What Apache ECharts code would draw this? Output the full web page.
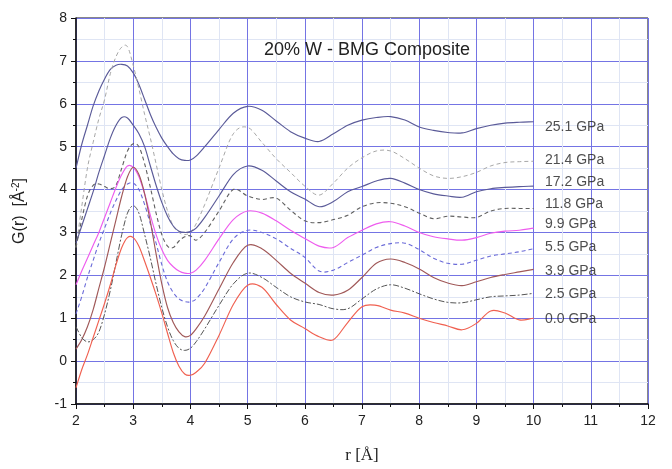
<!DOCTYPE html>
<html>
<head>
<meta charset="utf-8">
<script src="https://cdn.jsdelivr.net/npm/echarts@6/dist/echarts.min.js"></script>
<style>html,body{margin:0;padding:0;background:#fff}#c{width:672px;height:469px}</style>
</head>
<body>
<div id="c"></div>
<script>
// r values (Å)
var r = [2.0,2.1,2.2,2.3,2.4,2.5,2.6,2.7,2.8,2.9,3.0,3.1,3.2,3.3,3.4,3.5,3.6,3.7,3.8,3.9,4.0,4.1,4.25,4.5,4.75,5.0,5.25,5.5,5.75,6.0,6.25,6.5,6.75,7.0,7.25,7.5,7.75,8.0,8.25,8.5,8.75,9.0,9.25,9.5,9.75,10.0];

var g251 = [4.5,5.05,5.5,5.95,6.3,6.58,6.8,6.9,6.92,6.88,6.72,6.45,6.1,5.75,5.45,5.2,5.0,4.83,4.72,4.68,4.69,4.78,5.0,5.4,5.78,5.94,5.85,5.6,5.35,5.2,5.12,5.3,5.5,5.62,5.68,5.7,5.62,5.46,5.38,5.33,5.32,5.42,5.5,5.55,5.57,5.58];
var g214 = [2.65,3.6,4.5,5.1,5.65,6.1,6.7,7.1,7.32,7.33,6.9,6.35,5.75,5.2,4.6,4.0,3.5,3.15,3.0,2.95,3.0,3.2,3.65,4.5,5.3,5.45,5.1,4.72,4.4,4.08,3.87,4.15,4.5,4.74,4.9,4.9,4.72,4.5,4.32,4.26,4.3,4.4,4.55,4.63,4.65,4.66];
var g172 = [2.75,3.15,3.55,3.95,4.4,4.8,5.2,5.5,5.68,5.67,5.5,5.3,5.0,4.55,4.1,3.7,3.38,3.15,3.03,3.0,3.02,3.1,3.35,3.85,4.35,4.55,4.45,4.2,3.95,3.78,3.6,3.72,3.95,4.07,4.2,4.26,4.15,4.0,3.9,3.85,3.82,3.95,4.02,4.05,4.07,4.08];
var g118 = [2.65,3.3,3.85,4.1,4.13,4.07,4.02,4.1,4.5,4.9,5.07,5.0,4.6,4.05,3.45,2.95,2.68,2.65,2.8,2.9,2.92,2.82,3.0,3.5,4.0,3.85,3.77,3.8,3.52,3.27,3.23,3.3,3.4,3.6,3.69,3.68,3.6,3.45,3.32,3.38,3.36,3.35,3.5,3.56,3.56,3.56];
var g99  = [1.78,2.1,2.4,2.7,3.0,3.35,3.7,4.05,4.35,4.55,4.52,4.3,3.9,3.4,2.95,2.6,2.35,2.2,2.1,2.05,2.05,2.12,2.35,2.85,3.3,3.5,3.45,3.27,3.05,2.86,2.68,2.65,2.88,3.05,3.2,3.25,3.15,3.0,2.9,2.85,2.82,2.88,2.98,3.03,3.05,3.1];
var g55  = [1.1,1.5,1.95,2.35,2.75,3.1,3.45,3.75,4.0,4.13,4.15,4.0,3.65,3.2,2.75,2.25,1.85,1.6,1.45,1.39,1.38,1.45,1.7,2.3,2.85,3.05,3.0,2.85,2.63,2.42,2.1,2.12,2.3,2.47,2.65,2.74,2.75,2.6,2.4,2.28,2.26,2.35,2.45,2.5,2.55,2.62];
var g39  = [0.28,0.5,0.8,1.2,1.7,2.2,2.75,3.3,3.85,4.3,4.52,4.35,3.9,3.25,2.5,1.8,1.25,0.9,0.68,0.57,0.6,0.75,1.05,1.68,2.3,2.7,2.62,2.35,2.05,1.82,1.6,1.54,1.65,1.95,2.28,2.38,2.3,2.15,1.95,1.82,1.76,1.85,1.95,2.02,2.08,2.14];
var g25  = [0.8,0.55,0.45,0.5,0.68,1.1,1.65,2.3,2.95,3.45,3.62,3.45,2.95,2.4,1.8,1.25,0.8,0.48,0.3,0.25,0.3,0.45,0.75,1.3,1.8,2.05,1.95,1.72,1.5,1.38,1.32,1.22,1.22,1.45,1.68,1.78,1.7,1.57,1.45,1.37,1.36,1.43,1.5,1.52,1.54,1.58];
var g00  = [-0.62,-0.2,0.15,0.55,0.95,1.35,1.78,2.25,2.65,2.88,2.88,2.68,2.33,1.95,1.55,1.12,0.65,0.2,-0.12,-0.3,-0.33,-0.26,-0.05,0.6,1.32,1.77,1.72,1.32,0.96,0.76,0.57,0.5,0.9,1.27,1.3,1.19,1.12,1.0,0.9,0.82,0.73,0.88,1.17,1.12,0.96,1.0];

var seriesNames = ['25.1 GPa','21.4 GPa','17.2 GPa','11.8 GPa','9.9 GPa','5.5 GPa','3.9 GPa','2.5 GPa','0.0 GPa'];
var labelR = 10.2;
var labelY = [5.45,4.68,4.18,3.66,3.19,2.66,2.1,1.55,0.97];

var values = [g251,g214,g172,g118,g99,g55,g39,g25,g00];
var styles = [
  {color:'#5a5a98', dash:null, width:1.15},
  {color:'#a8a8a8', dash:[4,3], width:1},
  {color:'#5a5a98', dash:null, width:1.15},
  {color:'#606060', dash:[4,3], width:1.1},
  {color:'#ee5cee', dash:null, width:1.15},
  {color:'#6a6ad8', dash:[4,3], width:1.1},
  {color:'#a05858', dash:null, width:1.15},
  {color:'#555555', dash:[6,2,2,2], width:1},
  {color:'#f06050', dash:null, width:1.15}
];

function pairs(ys){ return r.map(function(x,i){ return [x, ys[i]]; }); }

// smooth curve through the data points, drawn via the chart's own coordinate system
function curveRenderer(ys, st){
  return function(params, api){
    if (params.dataIndex !== 0) return null;
    var n = r.length, m = [];
    for (var i = 0; i < n; i++) {
      var a = Math.max(0, i-1), b = Math.min(n-1, i+1);
      m.push((ys[b]-ys[a])/(r[b]-r[a]));
    }
    var p0 = api.coord([r[0], ys[0]]);
    var d = 'M' + p0[0] + ' ' + p0[1];
    for (var k = 0; k < n-1; k++) {
      var h = r[k+1]-r[k];
      var c1 = api.coord([r[k]+h/3, ys[k]+m[k]*h/3]);
      var c2 = api.coord([r[k+1]-h/3, ys[k+1]-m[k+1]*h/3]);
      var p = api.coord([r[k+1], ys[k+1]]);
      d += ' C' + c1[0] + ' ' + c1[1] + ' ' + c2[0] + ' ' + c2[1] + ' ' + p[0] + ' ' + p[1];
    }
    return {type:'path', shape:{pathData:d},
      style:{fill:'none', stroke:st.color, lineWidth:st.width, lineDash:st.dash}};
  };
}

var series = values.map(function(v,i){
  return {
    name: seriesNames[i], type:'custom', coordinateSystem:'cartesian2d',
    data: pairs(v), renderItem: curveRenderer(v, styles[i]), clip:false, z:3, silent:true,
    encode:{x:0, y:1}
  };
});
series.push({
  type:'scatter', symbolSize:0, silent:true, z:4,
  data: labelY.map(function(y,i){ return {value:[labelR,y], name:seriesNames[i]}; }),
  label:{show:true, position:'right', distance:0, formatter:'{b}', fontSize:14, color:'#222', fontFamily:'Liberation Sans, Arial, sans-serif'}
});

var axisFont = {fontSize:14, color:'#222', fontFamily:'Liberation Sans, Arial, sans-serif'};

var chart = echarts.init(document.getElementById('c'), null, {renderer:'canvas'});
chart.setOption({
  animation:false,
  backgroundColor:'#fff',
  title:{text:'20% W - BMG Composite', left:259, top:36,
    textStyle:{fontSize:18, fontWeight:'normal', color:'#222', fontFamily:'Liberation Sans, Arial, sans-serif'}},
  grid:{left:76, right:24, top:18, bottom:65, show:true, borderColor:'#111', borderWidth:1, backgroundColor:'transparent'},
  xAxis:{type:'value', min:2, max:12, interval:1,
    name:'r [Å]', nameLocation:'middle', nameGap:43,
    nameTextStyle:{fontSize:17, color:'#222', fontFamily:'Liberation Serif, Times New Roman, serif'},
    axisLine:{show:true, onZero:false, lineStyle:{color:'#111', width:1.5}},
    axisTick:{show:true, inside:false, length:5, lineStyle:{color:'#111'}},
    minorTick:{show:true, splitNumber:2, length:3, lineStyle:{color:'#111'}},
    axisLabel:Object.assign({margin:10}, axisFont),
    splitLine:{show:true, lineStyle:{color:'#7474e4', width:1}},
    minorSplitLine:{show:true, lineStyle:{color:'#dfe5f4', width:1}}
  },
  yAxis:{type:'value', min:-1, max:8, interval:1,
    name:'{a|G(r)  [Å}{s|-2}{a|]}', nameLocation:'middle', nameGap:47, nameRotate:90,
    nameTextStyle:{rich:{
      a:{fontSize:16, color:'#222', fontFamily:'Liberation Sans, Arial, sans-serif'},
      s:{fontSize:10, color:'#222', verticalAlign:'top', padding:[0,0,8,0], fontFamily:'Liberation Sans, Arial, sans-serif'}
    }},
    axisLine:{show:true, onZero:false, lineStyle:{color:'#111', width:1.5}},
    axisTick:{show:true, inside:false, length:5, lineStyle:{color:'#111'}},
    minorTick:{show:true, splitNumber:2, length:3, lineStyle:{color:'#111'}},
    axisLabel:Object.assign({margin:9}, axisFont),
    splitLine:{show:true, lineStyle:{color:'#7474e4', width:1}},
    minorSplitLine:{show:true, lineStyle:{color:'#dfe5f4', width:1}}
  },
  series: series
});
</script>
</body>
</html>
